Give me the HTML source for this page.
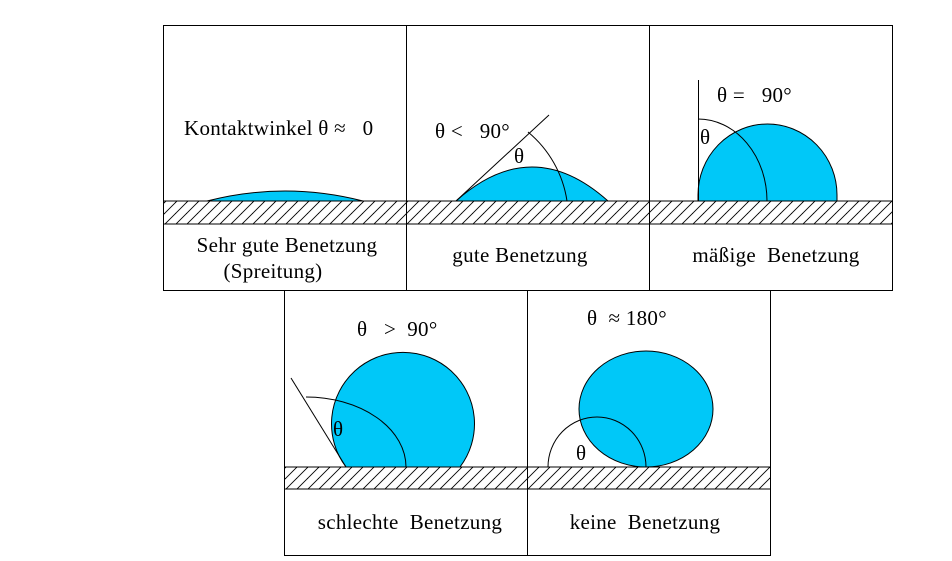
<!DOCTYPE html>
<html><head><meta charset="utf-8"><style>
html,body{margin:0;padding:0;background:#fff}
svg{display:block}
text{font-family:"Liberation Serif",serif;font-size:21px;letter-spacing:0.3px;fill:#000;white-space:pre}
</style></head><body>
<svg width="952" height="561" viewBox="0 0 952 561" xmlns="http://www.w3.org/2000/svg" xml:space="preserve">
<defs>
<pattern id="h" patternUnits="userSpaceOnUse" width="11" height="23" x="0" y="201">
<line x1="-22" y1="23" x2="1" y2="0" stroke="#000" stroke-width="0.9"/>
<line x1="-11" y1="23" x2="12" y2="0" stroke="#000" stroke-width="0.9"/>
<line x1="0" y1="23" x2="23" y2="0" stroke="#000" stroke-width="0.9"/>
</pattern>
<pattern id="h2" patternUnits="userSpaceOnUse" width="11" height="22" x="0" y="467">
<line x1="-22" y1="22" x2="0" y2="0" stroke="#000" stroke-width="0.9"/>
<line x1="-11" y1="22" x2="11" y2="0" stroke="#000" stroke-width="0.9"/>
<line x1="0" y1="22" x2="22" y2="0" stroke="#000" stroke-width="0.9"/>
</pattern>
</defs>
<g fill="#00c8f8" stroke="#000" stroke-width="1">
<path d="M207 201 Q285 181 363 201 Z"/>
<path d="M456 201 Q532 133 608 201 Z"/>
<path d="M698 201 L698 195 A69.5 71 0 0 1 837 195 L837 201 Z"/>
<path d="M346 467 A71.5 71.5 0 1 1 460 467 Z"/>
<ellipse cx="646" cy="409" rx="67" ry="58"/>
</g>
<g fill="none" stroke="#000" stroke-width="1">
<rect x="163.5" y="25.5" width="729" height="265"/>
<line x1="406.5" y1="25" x2="406.5" y2="290"/>
<line x1="649.5" y1="25" x2="649.5" y2="290"/>
<rect x="163.5" y="201" width="729" height="23" fill="url(#h)"/>
<rect x="284.5" y="290.5" width="486" height="265"/>
<line x1="527.5" y1="290" x2="527.5" y2="556"/>
<rect x="284.5" y="467" width="486" height="22" fill="url(#h2)"/>
<line x1="456" y1="201" x2="549" y2="115"/>
<path d="M528 132 A111 111 0 0 1 567 201"/>
<line x1="698.5" y1="80" x2="698.5" y2="201"/>
<path d="M698 119 A69 82 0 0 1 767 201"/>
<line x1="346" y1="467" x2="291" y2="378"/>
<path d="M306 397 A100 70 0 0 1 406 467"/>
<path d="M548 467 A49 50 0 0 1 646 467"/>
</g>
<text x="184" y="135">Kontaktwinkel θ ≈   0</text>
<text x="435" y="138">θ &lt;   90°</text>
<text x="514" y="163">θ</text>
<text x="717" y="102">θ =   90°</text>
<text x="700" y="144">θ</text>
<text x="287" y="252" text-anchor="middle">Sehr gute Benetzung</text>
<text x="273" y="278" text-anchor="middle">(Spreitung)</text>
<text x="520" y="262" text-anchor="middle">gute Benetzung</text>
<text x="776" y="262" text-anchor="middle">mäßige  Benetzung</text>
<text x="357" y="336">θ   &gt;  90°</text>
<text x="333" y="436">θ</text>
<text x="587" y="325">θ  ≈ 180°</text>
<text x="576" y="460">θ</text>
<text x="410" y="529" text-anchor="middle">schlechte  Benetzung</text>
<text x="645" y="529" text-anchor="middle">keine  Benetzung</text>
</svg>
</body></html>
